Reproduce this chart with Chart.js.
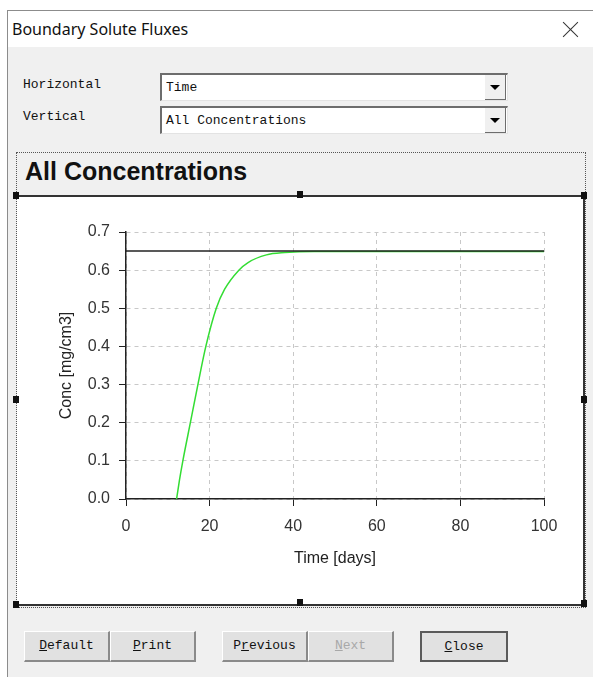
<!DOCTYPE html>
<html>
<head>
<meta charset="utf-8">
<script src="https://cdn.jsdelivr.net/npm/chart.js@4/dist/chart.umd.min.js"></script>
<style>
  html, body { margin: 0; padding: 0; background: #fff; }
  body { width: 593px; height: 677px; position: relative; overflow: hidden; font-family: "Liberation Mono", monospace; }
  .abs { position: absolute; }
  #win { left: 7px; top: 10px; width: 586px; height: 667px; background: #f0f0f0; border-left: 1px solid #8c8c8c; border-top: 1px solid #8c8c8c; box-sizing: border-box; }
  #titlebar { left: 8px; top: 11px; width: 585px; height: 36px; background: #fff; }
  #title { left: 12px; top: 18px; font: 16px "Noto Sans", sans-serif; color: #111; }
  .xline { left: 560px; top: 29px; width: 21px; height: 1px; background: #333; }
  .lbl { font-size: 13px; color: #111; }
  .combo { background: #fff; border-top: 2px solid #6d6d6d; border-left: 2px solid #6d6d6d; border-bottom: 1px solid #e3e3e3; border-right: 1px solid #e3e3e3; box-sizing: border-box; font-size: 13px; color: #111; padding: 5px 0 0 4px; }
  .arrow { width: 21px; background: #f0f0f0; border-right: 1px solid #6d6d6d; border-bottom: 1px solid #6d6d6d; box-sizing: border-box; }
  .arrow::after { content: ""; position: absolute; left: 5px; top: 10px; border-left: 5px solid transparent; border-right: 5px solid transparent; border-top: 5px solid #000; }
  #panel { left: 16px; top: 152px; width: 570px; height: 456px; border: 1px dotted #555; box-sizing: border-box; }
  #ctitle { left: 25px; top: 157px; font: bold 25px "Liberation Sans", Arial, sans-serif; color: #111; }
  #frame { left: 17px; top: 195px; width: 568px; height: 411px; background: #fff; border-top: 2px solid #333; border-right: 2px solid #333; border-bottom: 2px solid #333; box-sizing: border-box; }
  .hdl { width: 6px; height: 7px; background: #111; }
  .btn { height: 31px; background: #e1e1e1; border-top: 1px solid #fff; border-left: 1px solid #fff; border-right: 2px solid #8a8a8a; border-bottom: 2px solid #8a8a8a; box-sizing: border-box; font-size: 13px; color: #111; text-align: center; line-height: 27px; }
  .btn u { text-decoration: underline; }
  .dis { color: #a8a8a8; }
  .def { border: 2px solid #5a5a5a; }
  #chartbox { left: 17px; top: 196px; width: 566px; height: 408px; }
</style>
</head>
<body>
<div class="abs" id="win"></div>
<div class="abs" id="titlebar"></div>
<div class="abs" id="title">Boundary Solute Fluxes</div>
<div class="abs xline" style="transform: rotate(45deg);"></div>
<div class="abs xline" style="transform: rotate(-45deg);"></div>

<div class="abs lbl" style="left:23px;top:77px;">Horizontal</div>
<div class="abs lbl" style="left:23px;top:109px;">Vertical</div>
<div class="abs combo" style="left:160px;top:73px;width:348px;height:28px;">Time</div>
<div class="abs arrow" style="left:485px;top:75px;height:25px;"></div>
<div class="abs combo" style="left:160px;top:106px;width:348px;height:28px;">All Concentrations</div>
<div class="abs arrow" style="left:485px;top:108px;height:25px;"></div>

<div class="abs" id="panel"></div>
<div class="abs" id="ctitle">All Concentrations</div>
<div class="abs" id="frame"></div>
<div class="abs" id="chartbox"><canvas id="chart" width="566" height="408"></canvas></div>

<div class="abs hdl" style="left:13px;top:192px;"></div>
<div class="abs hdl" style="left:297px;top:191px;"></div>
<div class="abs hdl" style="left:581px;top:192px;"></div>
<div class="abs hdl" style="left:13px;top:396px;"></div>
<div class="abs hdl" style="left:581px;top:396px;"></div>
<div class="abs hdl" style="left:13px;top:601px;"></div>
<div class="abs hdl" style="left:297px;top:599px;"></div>
<div class="abs hdl" style="left:581px;top:600px;"></div>

<div class="abs btn" style="left:24px;top:631px;width:86px;"><u>D</u>efault</div>
<div class="abs btn" style="left:110px;top:631px;width:86px;"><u>P</u>rint</div>
<div class="abs btn" style="left:222px;top:631px;width:86px;">P<u>r</u>evious</div>
<div class="abs btn dis" style="left:308px;top:631px;width:86px;"><u>N</u>ext</div>
<div class="abs btn def" style="left:420px;top:631px;width:88px;"><u>C</u>lose</div>

<script>
const timeDays = [12.1, 12.8, 13.6, 15.4, 17.2, 19.1, 21.6, 23.6, 27.0, 29.2, 33.6, 38, 45, 60, 80, 100];
const concValues = [0.0, 0.05, 0.10, 0.20, 0.30, 0.40, 0.50, 0.55, 0.60, 0.62, 0.64, 0.646, 0.649, 0.649, 0.649, 0.649];
const refTime = [0, 100];
const refConc = [0.65, 0.65];
const xTicks = [0, 20, 40, 60, 80, 100];
const yTicks = [0.0, 0.1, 0.2, 0.3, 0.4, 0.5, 0.6, 0.7];

const toPoints = (xs, ys) => xs.map((x, i) => ({ x: x, y: ys[i] }));

const axisFont = { family: '"Liberation Sans", Arial, sans-serif', size: 16 };

new Chart(document.getElementById('chart'), {
    type: 'scatter',
    data: {
        datasets: [
            {
                data: toPoints(refTime, refConc),
                showLine: true,
                borderColor: '#222',
                borderWidth: 1.5,
                pointRadius: 0
            },
            {
                data: toPoints(timeDays, concValues),
                showLine: true,
                borderColor: '#33dd33',
                borderWidth: 1.5,
                pointRadius: 0,
                cubicInterpolationMode: 'monotone'
            }
        ]
    },
    options: {
        animation: false,
        responsive: false,
        events: [],
        layout: { padding: { left: 0, top: 36, right: 39, bottom: 0 } },
        plugins: { legend: { display: false }, tooltip: { enabled: false } },
        scales: {
            x: {
                type: 'linear',
                min: 0,
                max: 100,
                afterBuildTicks: (s) => { s.ticks = xTicks.map(v => ({ value: v })); },
                afterFit: (s) => { s.height = 105; },
                border: { color: '#222', width: 1.5, dash: [4, 4] },
                grid: { color: '#c8c8c8', tickColor: '#222', tickBorderDash: [], tickLength: 7, lineWidth: 1 },
                ticks: { color: '#333', font: axisFont, padding: 11, maxRotation: 0 },
                title: { display: true, text: 'Time [days]', color: '#222', font: axisFont, padding: { top: 0, bottom: 36 } }
            },
            y: {
                type: 'linear',
                min: 0,
                max: 0.7,
                afterBuildTicks: (s) => { s.ticks = yTicks.map(v => ({ value: v })); },
                afterFit: (s) => { s.width = 109; },
                border: { color: '#222', width: 1.5, dash: [4, 4] },
                grid: { color: '#c8c8c8', tickColor: '#222', tickBorderDash: [], tickLength: 7, lineWidth: 1 },
                ticks: { color: '#333', font: axisFont, padding: 9, callback: (v) => v.toFixed(1) },
                title: { display: true, text: 'Conc [mg/cm3]', color: '#222', font: axisFont, padding: { top: 40, bottom: 0 } }
            }
        }
    }
});
</script>
</body>
</html>
